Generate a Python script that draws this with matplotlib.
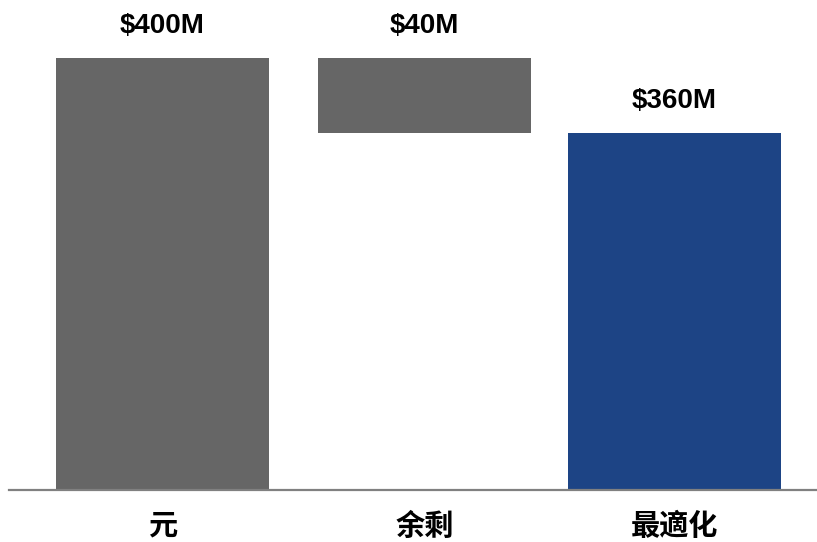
import matplotlib
matplotlib.use("Agg")
import matplotlib.pyplot as plt

categories = ["元", "余剩", "最適化"]
starts = [0, 400, 0]          # waterfall start level
ends = [400, 360, 360]        # waterfall end level
value_labels = ["$400M", "$40M", "$360M"]
colors = ["#666666", "#666666", "#1D4485"]

W, H = 817, 542
fig = plt.figure(figsize=(W / 100, H / 100), dpi=100)
ax_left, ax_right = 9, 817
ax_bottom, ax_top = 490, 20
ax = fig.add_axes([ax_left / W, (H - ax_bottom) / H, (ax_right - ax_left) / W, (ax_bottom - ax_top) / H])

x = [0, 1.023, 2]
bottoms = [min(s, e) for s, e in zip(starts, ends)]
heights = [abs(e - s) for s, e in zip(starts, ends)]
ax.bar(x, heights, bottom=bottoms, width=0.832, color=colors, zorder=2)

ymin = 169.6
px_per_unit = 432 / (400 - ymin)
ax.set_ylim(ymin, ymin + (ax_bottom - ax_top) / px_per_unit)
ax.set_xlim(-0.5996, 2.557)

for xi, b, h, lab in zip(x, bottoms, heights, value_labels):
    ax.annotate(lab, (xi, b + h), xytext=(0, 14), textcoords="offset points",
                ha="center", va="bottom", fontsize=20, fontweight="bold",
                family=["Liberation Sans", "DejaVu Sans"], color="#000000")

ax.set_xticks(x)
ax.set_xticklabels(categories, family=["Noto Sans CJK SC", "DejaVu Sans"],
                   fontsize=21, fontweight="bold")
ax.tick_params(axis="x", length=0, pad=15)
ax.set_yticks([])
for s in ["left", "right", "top"]:
    ax.spines[s].set_visible(False)
ax.spines["bottom"].set_color("#808080")
ax.spines["bottom"].set_linewidth(1.6)
ax.spines["bottom"].set_zorder(3)

fig.savefig("out.png", dpi=100)
